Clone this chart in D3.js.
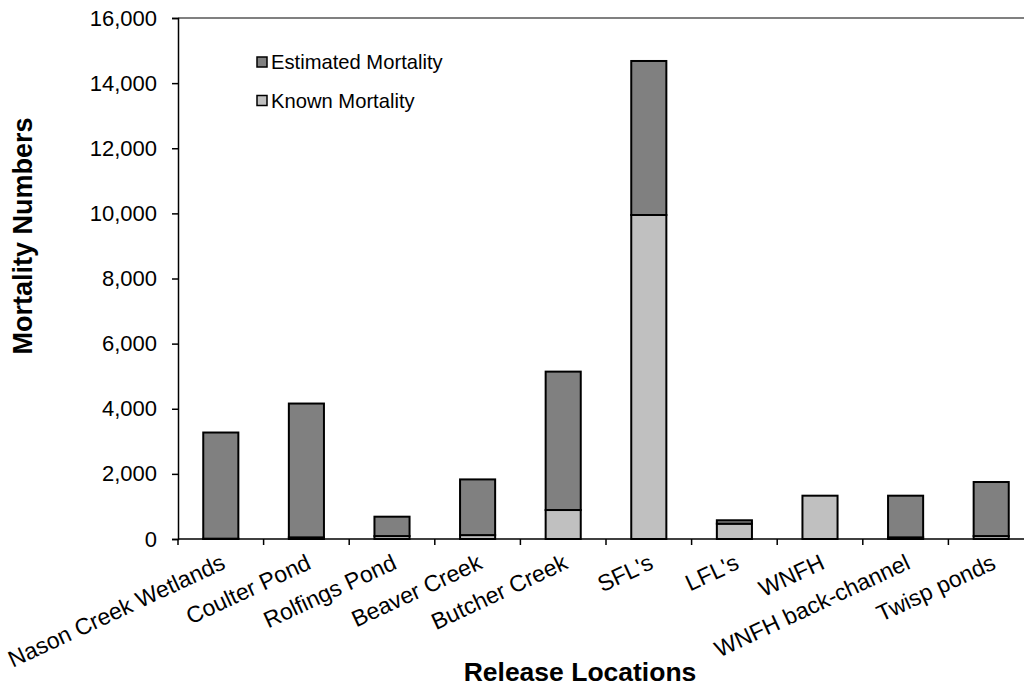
<!DOCTYPE html>
<html>
<head>
<meta charset="utf-8">
<script src="https://cdn.jsdelivr.net/npm/d3@7"></script>
<style>
  html, body { margin: 0; padding: 0; background: #fff; }
  svg { display: block; font-family: "Liberation Sans", Arial, sans-serif; }
</style>
</head>
<body>
<svg id="chart" width="1024" height="690"></svg>
<script>
const categories = ["Nason Creek Wetlands", "Coulter Pond", "Rolfings Pond", "Beaver Creek", "Butcher Creek", "SFL's", "LFL's", "WNFH", "WNFH back-channel", "Twisp ponds"];
const knownMortality = [10, 50, 90, 120, 890, 9950, 470, 1330, 50, 90];
const estimatedMortality = [3260, 4110, 595, 1710, 4250, 4730, 105, 0, 1280, 1660];
const yTicks = [0, 2000, 4000, 6000, 8000, 10000, 12000, 14000, 16000];
const seriesNames = ["Estimated Mortality", "Known Mortality"];
const seriesColors = ["#808080", "#c0c0c0"];

const svg = d3.select("#chart");
const pLeft = 178, pRight = 1034, pTop = 18, pBottom = 539;

const x = d3.scaleBand().domain(categories).range([pLeft, pRight]).paddingInner(0.59).paddingOuter(0.295);
const xb = d3.scaleBand().domain(categories).range([pLeft, pRight]);
const y = d3.scaleLinear().domain([0, 16000]).range([pBottom, pTop]);

// plot area top border
svg.append("line").attr("x1", pLeft).attr("x2", 1024).attr("y1", pTop).attr("y2", pTop)
  .attr("stroke", "#808080").attr("stroke-width", 2);

const rows = categories.map((c, i) => ({ cat: c, known: knownMortality[i], est: estimatedMortality[i] }));

const g = svg.append("g");
rows.forEach(d => {
  g.append("rect")
    .attr("x", x(d.cat)).attr("width", x.bandwidth())
    .attr("y", y(d.known)).attr("height", y(0) - y(d.known))
    .attr("fill", seriesColors[1]).attr("stroke", "#000").attr("stroke-width", 2);
  if (d.est > 0) {
    g.append("rect")
      .attr("x", x(d.cat)).attr("width", x.bandwidth())
      .attr("y", y(d.known + d.est)).attr("height", y(d.known) - y(d.known + d.est))
      .attr("fill", seriesColors[0]).attr("stroke", "#000").attr("stroke-width", 2);
  }
});

// y axis
const yAxis = d3.axisLeft(y).tickValues(yTicks).tickFormat(d3.format(",")).tickSize(6).tickPadding(15);
const ya = svg.append("g").attr("transform", `translate(${pLeft},0)`).call(yAxis);
ya.select(".domain").attr("stroke", "#000").attr("stroke-width", 1.5);
ya.selectAll(".tick line").attr("stroke", "#000").attr("stroke-width", 1.5);
ya.selectAll(".tick text").attr("font-size", 22).attr("fill", "#000").attr("font-family", "Liberation Sans, Arial, sans-serif");

// x axis line and ticks at band boundaries
svg.append("line").attr("x1", pLeft).attr("x2", 1024).attr("y1", pBottom).attr("y2", pBottom)
  .attr("stroke", "#000").attr("stroke-width", 1.5);
categories.forEach(c => {
  const bx = xb(c);
  svg.append("line").attr("x1", bx).attr("x2", bx).attr("y1", pBottom).attr("y2", pBottom + 6)
    .attr("stroke", "#000").attr("stroke-width", 1.5);
});

// x labels rotated
categories.forEach(c => {
  const cx = x(c) + x.bandwidth() / 2;
  svg.append("text")
    .attr("transform", `translate(${cx - 1},${pBottom + 14}) rotate(-25)`)
    .attr("text-anchor", "end").attr("dy", "0.72em")
    .attr("font-size", 23).attr("fill", "#000")
    .text(c);
});

// axis titles
svg.append("text").attr("x", 580).attr("y", 681).attr("text-anchor", "middle")
  .attr("font-size", 26.5).attr("font-weight", "bold").text("Release Locations");
svg.append("text").attr("transform", `translate(32,236) rotate(-90)`)
  .attr("text-anchor", "middle").attr("font-size", 27).attr("font-weight", "bold").text("Mortality Numbers");

// legend
const legend = svg.append("g");
seriesNames.forEach((s, i) => {
  const ly = 57 + i * 38.5;
  legend.append("rect").attr("x", 257).attr("y", ly).attr("width", 10).attr("height", 10)
    .attr("fill", seriesColors[i]).attr("stroke", "#000").attr("stroke-width", 1.5);
  legend.append("text").attr("x", 271).attr("y", ly + 12).attr("font-size", 20.2).attr("fill", "#000").text(s);
});
</script>
</body>
</html>
